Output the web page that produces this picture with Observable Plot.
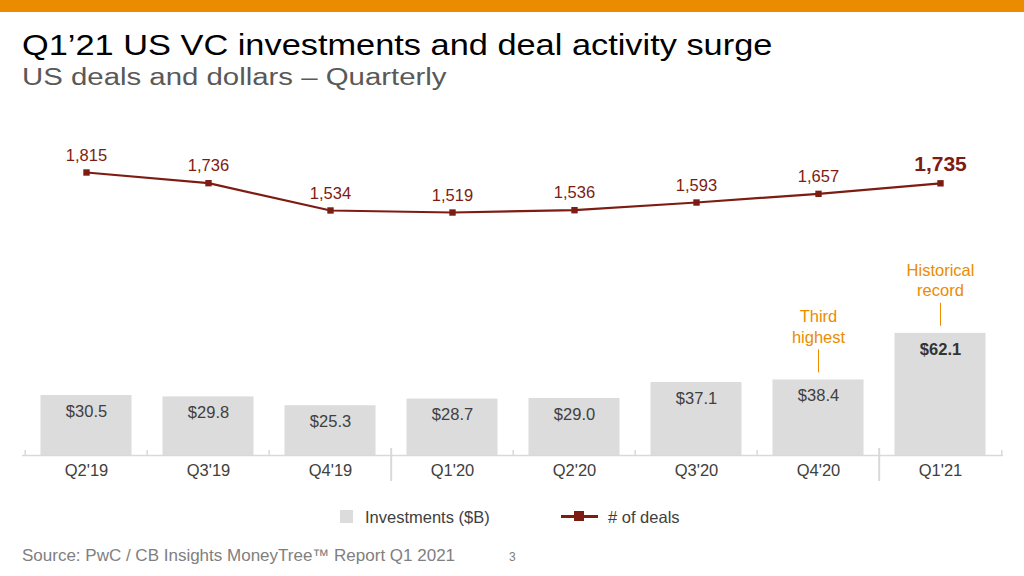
<!DOCTYPE html>
<html><head><meta charset="utf-8">
<script src="https://cdn.jsdelivr.net/npm/d3@7"></script>
<script src="https://cdn.jsdelivr.net/npm/@observablehq/plot@0.6"></script>
<style>
body{margin:0;background:#fff;font-family:"Liberation Sans",Arial,sans-serif;}
#page{position:relative;width:1024px;height:576px;overflow:hidden;background:#fff;}
.band{position:absolute;left:0;top:0;width:1024px;height:12px;background:#EB8C00;}
.title{position:absolute;left:22px;top:29.5px;font-size:30px;line-height:1;color:#000;white-space:nowrap;transform:scaleX(1.145);transform-origin:0 0;}
.subtitle{position:absolute;left:22px;top:66px;font-size:23.5px;line-height:1;color:#595959;white-space:nowrap;transform:scaleX(1.25);transform-origin:0 0;}
.layer{position:absolute;left:0;top:110px;}
.legend{position:absolute;top:507px;left:0;height:20px;font-size:16.5px;color:#404040;}
.legend .sw{position:absolute;left:340px;top:3px;width:13px;height:13px;background:#DCDCDC;}
.legend .t1{position:absolute;left:365px;top:1px;line-height:18px;white-space:nowrap;}
.legend .ln{position:absolute;left:561px;top:8px;width:37px;height:2.5px;background:#7D1C12;}
.legend .mk{position:absolute;left:574px;top:4px;width:10px;height:10px;background:#7D1C12;}
.legend .t2{position:absolute;left:608px;top:1px;line-height:18px;white-space:nowrap;}
.source{position:absolute;left:22px;top:546px;font-size:17px;line-height:20px;color:#808080;white-space:nowrap;}
.pagenum{position:absolute;left:509px;top:550px;font-size:12px;line-height:14px;color:#808080;}
</style>
</head><body>
<div id="page">
  <div class="band"></div>
  <div class="title">Q1’21 US VC investments and deal activity surge</div>
  <div class="subtitle">US deals and dollars – Quarterly</div>
  <div class="layer" id="bars"></div>
  <div class="layer" id="line"></div>
  <div class="legend">
    <div class="sw"></div><div class="t1">Investments ($B)</div>
    <div class="ln"></div><div class="mk"></div><div class="t2"># of deals</div>
  </div>
  <div class="source">Source: PwC / CB Insights MoneyTree™ Report Q1 2021</div>
  <div class="pagenum">3</div>
</div>
<script>
const quarters = ["Q2'19","Q3'19","Q4'19","Q1'20","Q2'20","Q3'20","Q4'20","Q1'21"];
const investments = [30.5, 29.8, 25.3, 28.7, 29.0, 37.1, 38.4, 62.1];
const deals = [1815, 1736, 1534, 1519, 1536, 1593, 1657, 1735];
const noteQuarters = ["Q4'20", "Q1'21"];
const noteTexts = ["Third\nhighest", "Historical\nrecord"];

const W = 1024, H = 380, ML = 22, MR = 21, MB = 35;
const step = (W - ML - MR) / quarters.length;
const FONT = '"Liberation Sans", Arial, sans-serif';
const FS = 16.5;
const lastQ = quarters[quarters.length - 1];

const bars = quarters.map((q, i) => ({q, v: investments[i]}));
const notes = noteQuarters.map((q, i) => ({q, text: noteTexts[i], v: investments[quarters.indexOf(q)]}));
const pts = quarters.map((q, i) => ({q, n: deals[i]}));
const fmt = d3.format(",");

const barPlot = Plot.plot({
  width: W, height: H, marginLeft: ML, marginRight: MR, marginTop: 0, marginBottom: MB,
  x: {type: "band", domain: quarters, padding: 0, axis: null},
  y: {domain: [0, 100], range: [H - MB, H - MB - 196.7], axis: null},
  style: {fontFamily: FONT, background: "transparent", overflow: "visible"},
  marks: [
    Plot.barY(bars, {x: "q", y: "v", fill: "#DCDCDC", insetLeft: 15.5, insetRight: 15.5}),
    Plot.text(bars.filter(d => d.q !== lastQ), {x: "q", y: "v", text: d => "$" + d.v.toFixed(1), dy: 16, fontSize: FS, fill: "#404040"}),
    Plot.text(bars.filter(d => d.q === lastQ), {x: "q", y: "v", text: d => "$" + d.v.toFixed(1), dy: 16, fontSize: FS, fontWeight: "bold", fill: "#333333"}),
    Plot.ruleY([0], {stroke: "#D9D9D9", strokeWidth: 1.5}),
    Plot.ruleX(quarters.filter(q => !q.startsWith("Q1")), {x: d => d, dx: -step / 2, y1: 0, y2: 2.6, stroke: "#D9D9D9", strokeWidth: 1.5}),
    Plot.ruleX([lastQ], {x: d => d, dx: step / 2, y1: 0, y2: 2.6, stroke: "#D9D9D9", strokeWidth: 1.5}),
    Plot.ruleX(quarters.filter(q => q.startsWith("Q1")), {x: d => d, dx: -step / 2, y1: -13.2, y2: 3.6, stroke: "#D9D9D9", strokeWidth: 2}),
    Plot.text(quarters, {x: d => d, frameAnchor: "bottom", dy: 20, fontSize: FS, fill: "#404040"}),
    Plot.ruleX(notes, {x: "q", y1: d => d.v + 3.6, y2: d => d.v + 15.3, stroke: "#EB8C00", strokeWidth: 1}),
    Plot.text(notes, {x: "q", y: "v", text: "text", dy: -54, lineHeight: 1.25, fontSize: FS, fill: "#EB8C00"})
  ]
});
document.getElementById("bars").appendChild(barPlot);

const linePlot = Plot.plot({
  width: W, height: H, marginLeft: ML, marginRight: MR, marginTop: 0, marginBottom: MB,
  x: {type: "band", domain: quarters, padding: 0, axis: null},
  y: {domain: [1400, 1900], range: [118.1, 50.5], axis: null},
  style: {fontFamily: FONT, background: "transparent", overflow: "visible"},
  marks: [
    Plot.line(pts, {x: "q", y: "n", stroke: "#7D1C12", strokeWidth: 2.2}),
    Plot.dot(pts, {x: "q", y: "n", symbol: "square", r: 3.6, fill: "#7D1C12", stroke: "none"}),
    Plot.text(pts.filter(d => d.q !== lastQ), {x: "q", y: "n", text: d => fmt(d.n), dy: -17, fontSize: FS, fill: "#7D1C12"}),
    Plot.text(pts.filter(d => d.q === lastQ), {x: "q", y: "n", text: d => fmt(d.n), dy: -19, fontSize: 21, fontWeight: "bold", fill: "#7D1C12"})
  ]
});
document.getElementById("line").appendChild(linePlot);
</script>
</body></html>
